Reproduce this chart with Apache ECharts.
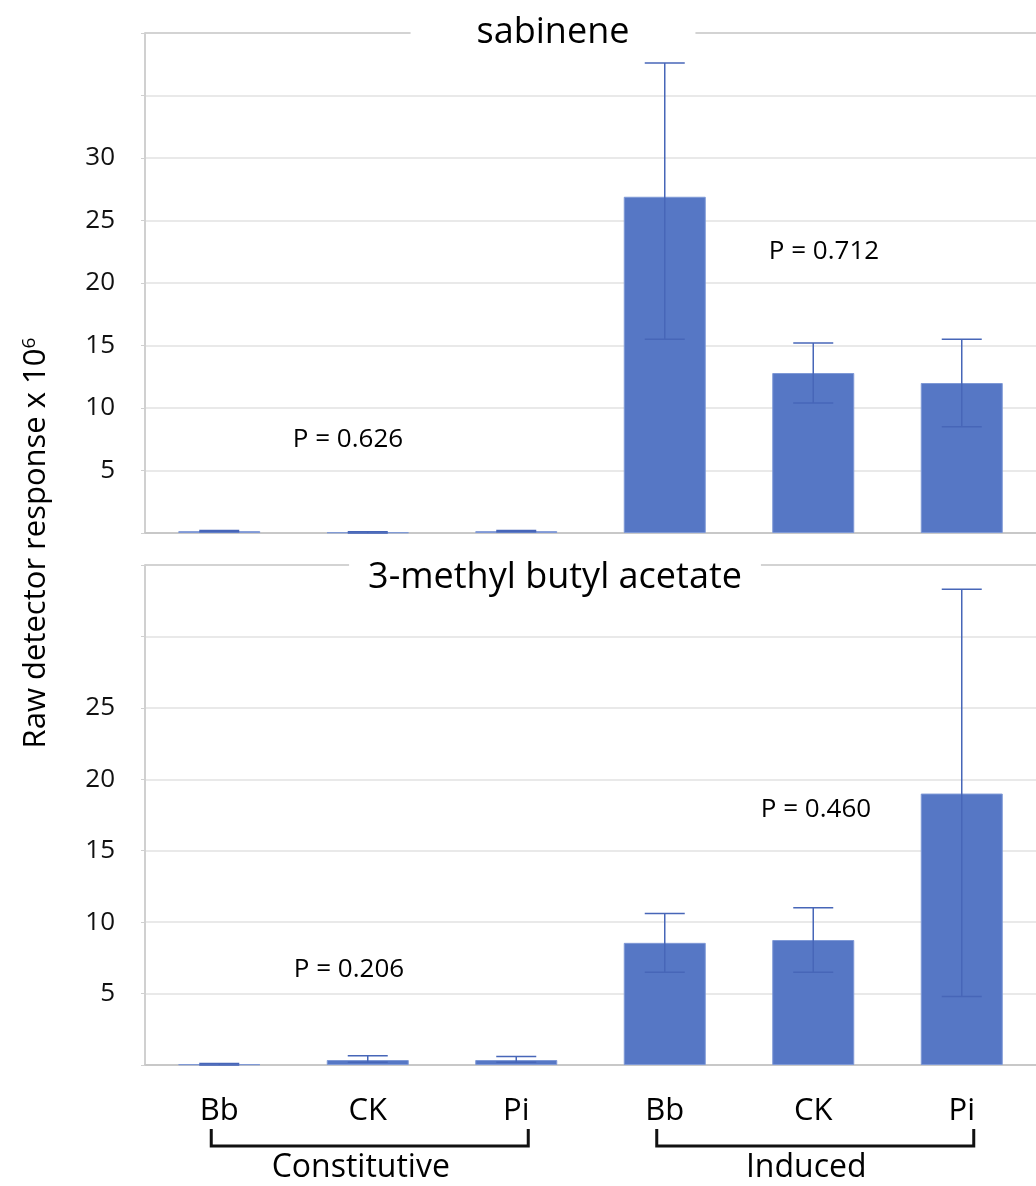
<!DOCTYPE html>
<html><head><meta charset="utf-8">
<script src="https://cdn.jsdelivr.net/npm/echarts@6/dist/echarts.min.js"></script>
<style>html,body{margin:0;padding:0;background:#fff}#c{width:1036px;height:1186px}</style>
</head><body><div id="c"></div>
<script>
const categories = ['Bb','CK','Pi','Bb','CK','Pi'];
const groups = ['Constitutive','Induced'];
const sabMean = [0.15, 0.05, 0.15, 26.9, 12.8, 12.0];
const sabLow  = [0.10, 0.00, 0.10, 15.5, 10.4, 8.5];
const sabHigh = [0.20, 0.10, 0.20, 37.6, 15.2, 15.5];
const mbaMean = [0.05, 0.35, 0.35, 8.55, 8.75, 19.0];
const mbaLow  = [0.00, 0.20, 0.20, 6.5, 6.5, 4.8];
const mbaHigh = [0.10, 0.65, 0.60, 10.6, 11.0, 33.3];
const sabTicks = ['5','10','15','20','25','30'];
const mbaTicks = ['5','10','15','20','25'];
const titles = ['sabinene','3-methyl butyl acetate'];
const pTexts = ['P = 0.626','P = 0.712','P = 0.206','P = 0.460'];

const FONT = 'Open Sans';
const BAR = '#5677c5';
const ERR = '#4766b8';
const chart = echarts.init(document.getElementById('c'), null, {renderer:'canvas'});

function errItem(params, api){
  const x = api.value(0), lo = api.value(1), hi = api.value(2);
  const a = api.coord([x, lo]), b = api.coord([x, hi]);
  const cap = 20;
  const st = {stroke: ERR, lineWidth: 1.5};
  return {type:'group', children:[
    {type:'line', shape:{x1:a[0], y1:a[1], x2:b[0], y2:b[1]}, style:st},
    {type:'line', shape:{x1:a[0]-cap, y1:a[1], x2:a[0]+cap, y2:a[1]}, style:st},
    {type:'line', shape:{x1:b[0]-cap, y1:b[1], x2:b[0]+cap, y2:b[1]}, style:st}
  ]};
}

function yAxis(gi, max, ticks){
  const n = max/5 + 1;
  const cols = [];
  for (let i=0;i<n;i++) cols.push(i===n-1 ? '#c4c4c4' : '#e2e2e2');
  return {
    type:'value', gridIndex:gi, min:0, max:max, interval:5,
    axisLine:{show:true, lineStyle:{color:'#d0d0d0', width:2}},
    axisTick:{show:true, length:4, lineStyle:{color:'#d0d0d0'}},
    splitLine:{show:true, lineStyle:{color:cols, width:1.5}},
    axisLabel:{fontFamily:FONT, fontSize:26, color:'#111', margin:30,
      formatter: v => ticks.includes(String(v)) ? String(v) : ''}
  };
}
function xAxis(gi, showLabels){
  return {
    type:'category', gridIndex:gi, data:categories, offset:5,
    axisLine:{show:true, lineStyle:{color:'#c8c8c8', width:2}},
    axisTick:{show:false},
    axisLabel:{show:showLabels, fontFamily:FONT, fontSize:31, color:'#000', margin:26}
  };
}

const option = {
  animation:false,
  backgroundColor:'#fff',
  grid:[
    {left:145, right:0, top:33, height:500},
    {left:145, right:0, top:565, height:500}
  ],
  xAxis:[xAxis(0,false), xAxis(1,true)],
  yAxis:[yAxis(0,40,sabTicks), yAxis(1,35,mbaTicks)],
  series:[
    {type:'bar', xAxisIndex:0, yAxisIndex:0, data:sabMean, barWidth:82,
     itemStyle:{color:BAR, borderColor:'#7f99d6', borderWidth:1}},
    {type:'custom', xAxisIndex:0, yAxisIndex:0, renderItem:errItem, z:5,
     data:categories.map((c,i)=>[i, sabLow[i], sabHigh[i]])},
    {type:'bar', xAxisIndex:1, yAxisIndex:1, data:mbaMean, barWidth:82,
     itemStyle:{color:BAR, borderColor:'#7f99d6', borderWidth:1}},
    {type:'custom', xAxisIndex:1, yAxisIndex:1, renderItem:errItem, z:5,
     data:categories.map((c,i)=>[i, mbaLow[i], mbaHigh[i]])}
  ]
};
chart.setOption(option);

const px = i => chart.convertToPixel({xAxisIndex:1}, i);
const txt = (t, x, y, size, extra) => Object.assign({type:'text', z:100, x:x, y:y,
  style:Object.assign({text:t, fontFamily:FONT, fontSize:size, fill:'#000', align:'center', verticalAlign:'middle'}, extra||{})});

const graphics = [
  txt(titles[0], 553, 33, 36, {backgroundColor:'#fff', padding:[6,66,6,66]}),
  txt(titles[1], 555, 578, 36, {backgroundColor:'#fff', padding:[6,19,6,19]}),
  txt(pTexts[0], 348, 440, 26),
  txt(pTexts[1], 824, 252, 26),
  txt(pTexts[2], 349, 970, 26),
  txt(pTexts[3], 816, 810, 26),
  {type:'text', z:100, x:36, y:543, rotation:Math.PI/2,
   style:{text:'{a|Raw detector response x 10}{s|6}', align:'center', verticalAlign:'middle',
     rich:{a:{fontFamily:FONT, fontSize:31, fill:'#000', verticalAlign:'bottom'},
           s:{fontFamily:FONT, fontSize:19, fill:'#000', verticalAlign:'top', padding:[0,0,13,0]}}}}
];
[[0,2],[3,5]].forEach((g, k) => {
  const x1 = px(g[0]) - 8, x2 = px(g[1]) + 12;
  graphics.push({type:'polyline', z:100, shape:{points:[[x1,1129],[x1,1146],[x2,1146],[x2,1129]]},
    style:{stroke:'#111', lineWidth:3, fill:null}});
  graphics.push(txt(groups[k], (x1+x2)/2 - 9, 1168, 32));
});
chart.setOption({graphic:graphics});
</script></body></html>
